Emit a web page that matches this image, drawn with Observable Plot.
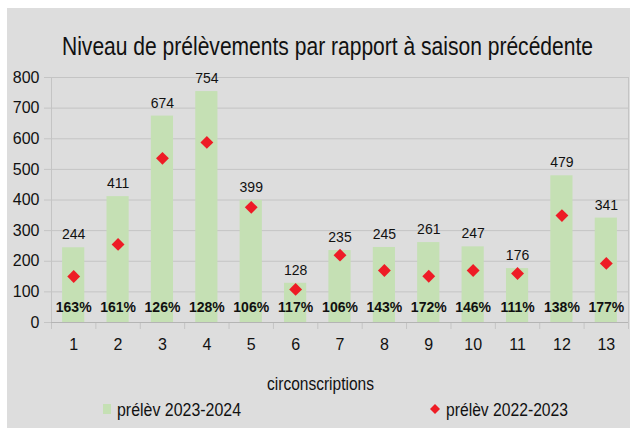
<!DOCTYPE html>
<html>
<head>
<meta charset="utf-8">
<script src="https://cdn.jsdelivr.net/npm/d3@7"></script>
<script src="https://cdn.jsdelivr.net/npm/@observablehq/plot@0.6"></script>
<style>
  html, body { margin: 0; padding: 0; background: #ffffff; }
  #card { position: absolute; left: 7px; top: 8px; width: 623px; height: 420px; background: #dddddd; font-family: "Liberation Sans", Arial, sans-serif; color: #111; }
  .fit { position: absolute; white-space: nowrap; display: inline-block; transform-origin: 0 50%; font-family: "Liberation Sans", Arial, sans-serif; color: #111; }
  #chart { position: absolute; left: 0; top: 57px; }
  .sw { position: absolute; }
</style>
</head>
<body>
<div id="card">
  <div id="chart"></div>
</div>
<script>
const chartTitle = "Niveau de prélèvements par rapport à saison précédente";
const categories = ["1","2","3","4","5","6","7","8","9","10","11","12","13"];
const prelev2324 = [244, 411, 674, 754, 399, 128, 235, 245, 261, 247, 176, 479, 341];
const prelev2223 = [150, 255, 536, 588, 376, 108, 220, 170, 151, 170, 160, 349, 193];
const ratioLabels = ["163%","161%","126%","128%","106%","117%","106%","143%","172%","146%","111%","138%","177%"];
const yTicks = [0, 100, 200, 300, 400, 500, 600, 700, 800];
const seriesNames = ["prélèv 2023-2024", "prélèv 2022-2023"];
const xLabel = "circonscriptions";

const GREEN = "#c5e0b4";
const RED = "#ee1c25";
const GRID = "#c4c4c4";

const data = categories.map((c, i) => ({
  cat: c, cur: prelev2324[i], prev: prelev2223[i], ratio: ratioLabels[i]
}));

const W = 623, H = 330, mL = 44, mR = 2, mT = 12, mB = 73;
const step = (W - mL - mR) / categories.length;

const chart = Plot.plot({
  width: W, height: H,
  marginLeft: mL, marginRight: mR, marginTop: mT, marginBottom: mB,
  style: { background: "transparent", fontFamily: "Liberation Sans, Arial, sans-serif", overflow: "visible" },
  x: { domain: categories, paddingInner: 0.5, paddingOuter: 0.25, round: false, axis: null },
  y: { domain: [0, 800], ticks: yTicks, axis: null },
  marks: [
    Plot.ruleY(yTicks, { stroke: GRID, strokeWidth: 1 }),
    Plot.barY(data, { x: "cat", y: "cur", fill: GREEN }),
    Plot.ruleX(data, { x: "cat", dx: -step / 2, y1: 0, y2: 0, insetBottom: -7, stroke: GRID }),
    Plot.ruleX(data.slice(-1), { x: "cat", dx: step / 2, y1: 0, y2: 0, insetBottom: -7, stroke: GRID }),
    Plot.ruleX(data.slice(0, 1), { x: "cat", dx: -step / 2, y1: 0, y2: 800, stroke: GRID }),
    Plot.ruleX(data.slice(-1), { x: "cat", dx: step / 2, y1: 0, y2: 800, stroke: GRID }),
    Plot.ruleY([0], { stroke: "#b4b4b4" }),
    Plot.axisY({ ticks: yTicks, tickSize: 7, tickPadding: 5, stroke: GRID, fontSize: 16, fill: "#111", label: null }),
    Plot.axisX({ tickSize: 0, tickPadding: 16, fontSize: 16, fill: "#111", label: null }),
    Plot.dot(data, { x: "cat", y: "prev", symbol: "diamond2", r: 5.8, fill: RED, stroke: "none" }),
    Plot.text(data, { x: "cat", y: "cur", text: d => String(d.cur), dy: -13, fontSize: 14, fill: "#111" }),
    Plot.text(data, { x: "cat", text: "ratio", frameAnchor: "bottom", dy: -11, fontSize: 14, fontWeight: "bold", fill: "#111" })
  ]
});
document.getElementById("chart").appendChild(chart);

const card = document.getElementById("card");
// place a text so that it spans [left, left+width] (page coords) with its vertical center at cy
function fitText(txt, size, left, width, cy) {
  const s = document.createElement("span");
  s.className = "fit";
  s.textContent = txt;
  s.style.fontSize = size + "px";
  s.style.lineHeight = size + "px";
  card.appendChild(s);
  const w = s.getBoundingClientRect().width;
  s.style.left = (left - 7) + "px";
  s.style.top = (cy - 8 - size / 2) + "px";
  s.style.transform = `scaleX(${width / w})`;
  return s;
}
fitText(chartTitle, 25, 62, 531, 46);
fitText(xLabel, 18, 267, 107, 384);
fitText(seriesNames[0], 18, 117, 124, 410);
fitText(seriesNames[1], 18, 446, 122, 410);

const sq = document.createElement("div");
sq.className = "sw";
Object.assign(sq.style, { left: (103 - 7) + "px", top: (404 - 8) + "px", width: "8px", height: "10px", background: GREEN });
card.appendChild(sq);
const dm = document.createElementNS("http://www.w3.org/2000/svg", "svg");
dm.setAttribute("width", "10"); dm.setAttribute("height", "10");
dm.setAttribute("class", "sw");
dm.style.left = (430 - 7) + "px"; dm.style.top = (404 - 8) + "px";
dm.innerHTML = `<path d="M5,0L10,5L5,10L0,5Z" fill="${RED}"/>`;
card.appendChild(dm);
</script>
</body>
</html>
